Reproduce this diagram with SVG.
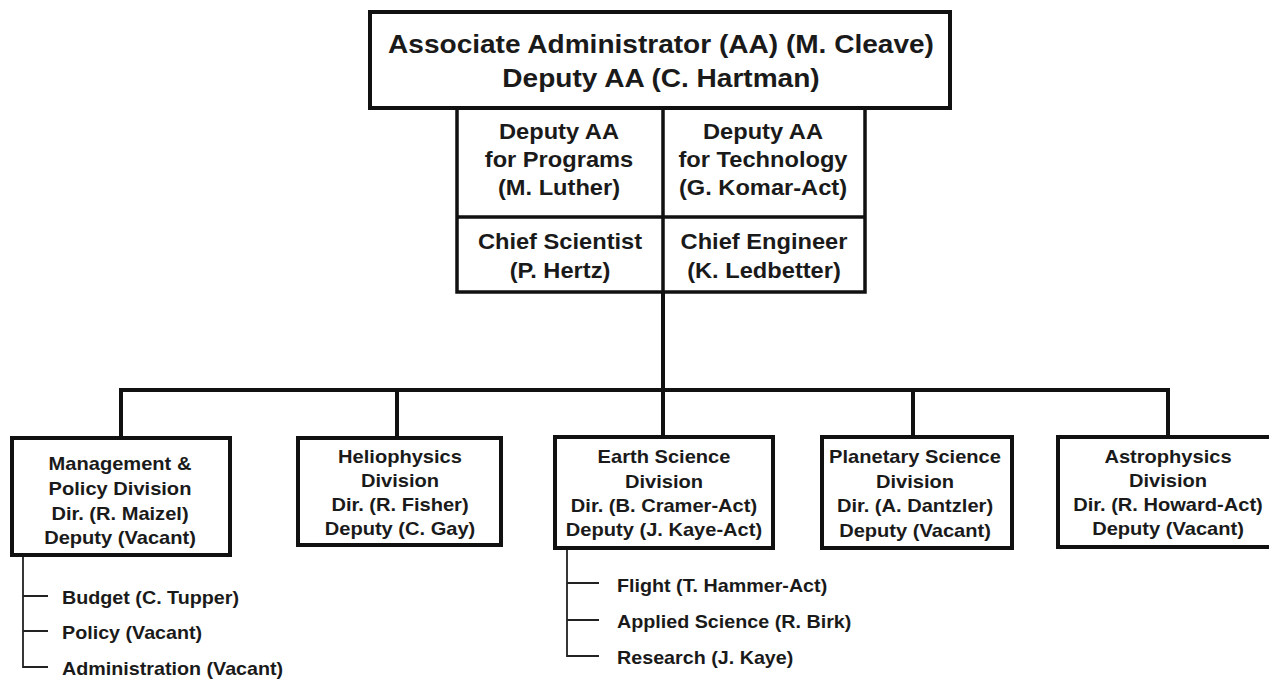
<svg xmlns="http://www.w3.org/2000/svg" width="1269" height="679" viewBox="0 0 1269 679">
  <style>
    .box { fill: #ffffff; stroke: #111111; stroke-width: 4; }
    .cell { fill: none; stroke: #111111; stroke-width: 3.5; }
    .bus { fill: none; stroke: #111111; stroke-width: 4; stroke-linejoin: miter; }
    .sub { fill: none; stroke: #222222; stroke-width: 1.8; }
    text { font-family: "Liberation Sans", Arial, sans-serif; font-weight: bold; fill: #1a1a1a; }
    .t1 { font-size: 25.5px; text-anchor: middle; }
    .t2 { font-size: 21.5px; text-anchor: middle; }
    .t3 { font-size: 18.6px; text-anchor: middle; }
    .t4 { font-size: 18.6px; text-anchor: start; }
  </style>
  <rect width="1269" height="679" fill="#ffffff"/>

  <!-- connectors -->
  <g id="connectors">
    <path class="bus" d="M663 292 V390"/>
    <path class="bus" d="M121 438 V390 H1168 V437"/>
    <path class="bus" d="M397 390 V438"/>
    <path class="bus" d="M663 390 V437"/>
    <path class="bus" d="M913 390 V437"/>
    <!-- sub-units of Management & Policy -->
    <path class="sub" d="M23 555 V667 H48 M23 596 H48 M23 631 H48"/>
    <!-- sub-units of Earth Science -->
    <path class="sub" d="M567 548 V656 H599 M567 583 H599 M567 620 H599"/>
  </g>

  <!-- Associate Administrator -->
  <g id="node-aa">
    <rect class="box" x="370" y="12" width="580" height="96"/>
    <g transform="translate(661 0) scale(1.1 1)">
      <text class="t1" x="0" y="53">Associate Administrator (AA) (M. Cleave)</text>
      <text class="t1" x="0" y="87">Deputy AA (C. Hartman)</text>
    </g>
  </g>

  <!-- staff offices -->
  <g id="node-staff">
    <rect class="cell" x="457" y="108" width="408" height="184"/>
    <path class="cell" d="M663 108 V292 M457 217 H865"/>
  </g>
  <g id="node-programs" transform="translate(559 0) scale(1.1 1)">
    <text class="t2" x="0" y="139">Deputy AA</text>
    <text class="t2" x="0" y="167">for Programs</text>
    <text class="t2" x="0" y="195">(M. Luther)</text>
  </g>
  <g id="node-technology" transform="translate(763 0) scale(1.1 1)">
    <text class="t2" x="0" y="139">Deputy AA</text>
    <text class="t2" x="0" y="167">for Technology</text>
    <text class="t2" x="0" y="195">(G. Komar-Act)</text>
  </g>
  <g id="node-scientist" transform="translate(560 0) scale(1.1 1)">
    <text class="t2" x="0" y="249">Chief Scientist</text>
    <text class="t2" x="0" y="278">(P. Hertz)</text>
  </g>
  <g id="node-engineer" transform="translate(764 0) scale(1.1 1)">
    <text class="t2" x="0" y="249">Chief Engineer</text>
    <text class="t2" x="0" y="278">(K. Ledbetter)</text>
  </g>

  <!-- divisions -->
  <g id="node-management">
    <rect class="box" x="12" y="438" width="218" height="117"/>
    <g transform="translate(120 0) scale(1.08 1)">
      <text class="t3" x="0" y="470">Management &amp;</text>
      <text class="t3" x="0" y="495">Policy Division</text>
      <text class="t3" x="0" y="520">Dir. (R. Maizel)</text>
      <text class="t3" x="0" y="544">Deputy (Vacant)</text>
    </g>
  </g>
  <g id="node-heliophysics">
    <rect class="box" x="298" y="438" width="203" height="107"/>
    <g transform="translate(400 0) scale(1.08 1)">
      <text class="t3" x="0" y="463">Heliophysics</text>
      <text class="t3" x="0" y="487">Division</text>
      <text class="t3" x="0" y="511">Dir. (R. Fisher)</text>
      <text class="t3" x="0" y="535">Deputy (C. Gay)</text>
    </g>
  </g>
  <g id="node-earth">
    <rect class="box" x="555" y="437" width="218" height="111"/>
    <g transform="translate(664 0) scale(1.08 1)">
      <text class="t3" x="0" y="463">Earth Science</text>
      <text class="t3" x="0" y="488">Division</text>
      <text class="t3" x="0" y="512">Dir. (B. Cramer-Act)</text>
      <text class="t3" x="0" y="536">Deputy (J. Kaye-Act)</text>
    </g>
  </g>
  <g id="node-planetary">
    <rect class="box" x="822" y="437" width="190" height="111"/>
    <g transform="translate(915 0) scale(1.08 1)">
      <text class="t3" x="0" y="463">Planetary Science</text>
      <text class="t3" x="0" y="488">Division</text>
      <text class="t3" x="0" y="512">Dir. (A. Dantzler)</text>
      <text class="t3" x="0" y="537">Deputy (Vacant)</text>
    </g>
  </g>
  <g id="node-astrophysics">
    <rect class="box" x="1058" y="437" width="230" height="110"/>
    <g transform="translate(1168 0) scale(1.08 1)">
      <text class="t3" x="0" y="463">Astrophysics</text>
      <text class="t3" x="0" y="487">Division</text>
      <text class="t3" x="0" y="511">Dir. (R. Howard-Act)</text>
      <text class="t3" x="0" y="535">Deputy (Vacant)</text>
    </g>
  </g>

  <!-- branch offices -->
  <g id="node-management-branches" transform="translate(62 0) scale(1.06 1)">
    <text class="t4" x="0" y="604">Budget (C. Tupper)</text>
    <text class="t4" x="0" y="639">Policy (Vacant)</text>
    <text class="t4" x="0" y="675">Administration (Vacant)</text>
  </g>
  <g id="node-earth-branches" transform="translate(617 0) scale(1.06 1)">
    <text class="t4" x="0" y="592">Flight (T. Hammer-Act)</text>
    <text class="t4" x="0" y="628">Applied Science (R. Birk)</text>
    <text class="t4" x="0" y="664">Research (J. Kaye)</text>
  </g>
</svg>
